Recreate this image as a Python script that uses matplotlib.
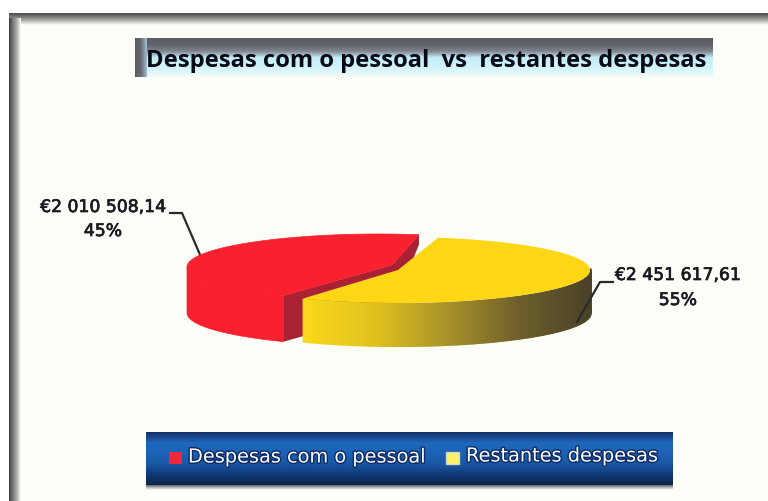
import numpy as np
import matplotlib
matplotlib.use('Agg')
import matplotlib.pyplot as plt
import matplotlib.patheffects as pe
from matplotlib.colors import LinearSegmentedColormap

# Dados
categories = ['Despesas com o pessoal', 'Restantes despesas']
values = [2010508.14, 2451617.61]
value_labels = ['€2 010 508,14', '€2 451 617,61']
percent_labels = ['45%', '55%']
title = 'Despesas com o pessoal  vs  restantes despesas'

# Geometria da tarte em pixeis
start_angle = 78
rx, ry = 192, 33
red_center = (379, 267)
red_apex = (392, 265)
yellow_center = (398, 270)
red_depth = 46
yellow_depth = 44

sweep_red = 360 * values[0] / sum(values)
sweep_yellow = 360 * values[1] / sum(values)


def arc(center, a0, a1, n=200):
    t = np.radians(np.linspace(a0, a1, n))
    return center[0] + rx * np.cos(t), center[1] - ry * np.sin(t)


def grad(ax, extent, colors, vertical=True, z=2):
    g = np.linspace(0, 1, 64)
    g = g[:, None] if vertical else g[None, :]
    ax.imshow(g, extent=extent, aspect='auto', zorder=z,
              cmap=LinearSegmentedColormap.from_list('g', colors))


fig = plt.figure(figsize=(7.68, 5.01), dpi=100, facecolor='#ffffff')
ax = fig.add_axes([0, 0, 1, 1])

# Fundo e moldura
ax.fill([9, 768, 768, 9], [13, 13, 501, 501], color='#fbfff8', lw=0, zorder=0)
grad(ax, [9, 768, 25, 13], ['#4a4a4a', '#7c7c7a', '#b8b8b4', '#fbfff8'], z=1)
grad(ax, [9, 21, 501, 18], ['#3e3e3e', '#7a7a78', '#b0b0aa', '#fbfff8'], vertical=False, z=1.1)

# Banda do titulo
grad(ax, [135, 713, 77, 38], ['#5c5c62', '#62626a', '#80848c', '#c4ecf8', '#ccf2fb', '#d8f5fb', '#f6fcf8'])
grad(ax, [135, 147, 77, 38], ['#5a5a60', '#6a6a72', '#a0c0d0'], vertical=False, z=2.1)
ax.text(426, 67, title, ha='center', va='baseline', fontsize=17.1, fontweight='bold',
        family='Open Sans', color='#0a0a14', zorder=3)

# Linhas de ligacao
ax.plot([170, 182, 201], [213, 213, 257], color='#2a2a2a', lw=1.6, zorder=3)
ax.plot([613, 600, 577], [282, 282, 322], color='#2a2a2a', lw=1.6, zorder=7)

# Fatia vermelha: parede exterior, parede interior e topo
xr, yr = arc(red_center, start_angle, start_angle + sweep_red)
front_r = np.degrees(np.arctan2(red_center[1] - yr, xr - red_center[0])) % 360 >= 180
xs, ys = xr[front_r], yr[front_r]
ax.fill(np.r_[xs, xs[::-1]], np.r_[ys, ys[::-1] + red_depth], color='#f9202f', ec='#f9202f', lw=0.5, zorder=4)
wall_x = [xr[-1], red_apex[0], xr[0], xr[0], red_apex[0], xr[-1]]
wall_y = [yr[-1], red_apex[1], yr[0], yr[0] + 10, red_apex[1] + red_depth, yr[-1] + red_depth]
ax.fill(wall_x, wall_y, color='#a82233', lw=0, zorder=4.2)
ax.fill(np.r_[xr, red_apex[0]], np.r_[yr, red_apex[1]], color='#f9202f', ec='#f9202f', lw=0.5, zorder=4.3)

# Fatia amarela: parede com gradiente e topo
xy, yy = arc(yellow_center, start_angle, start_angle - sweep_yellow)
front = (xy >= xy[-1]) & (yy >= yellow_center[1] - 2)
xf, yf = xy[front][::-1], yy[front][::-1]
wall_cmap = LinearSegmentedColormap.from_list('w', ['#f9d81c', '#e0c01e', '#a8922a', '#6e5f2c', '#4a4228'])
for i in range(len(xf) - 1):
    c = wall_cmap((xf[i] - xf[0]) / (xf[-1] - xf[0]))
    ax.fill([xf[i], xf[i + 1] + 1.5, xf[i + 1] + 1.5, xf[i]],
            [yf[i], yf[i + 1], yf[i + 1] + yellow_depth, yf[i] + yellow_depth],
            color=c, lw=0, zorder=5)
ax.fill(np.r_[xy, yellow_center[0]], np.r_[yy, yellow_center[1]], color='#fdd616', lw=0, zorder=5.5)

# Rotulos
bold = [pe.withStroke(linewidth=0.5, foreground='#1a1a22')]
label_style = dict(ha='center', va='center', fontsize=12.4, color='#1a1a22',
                   family='DejaVu Sans', zorder=8, path_effects=bold)
ax.text(103, 207, value_labels[0], **label_style)
ax.text(103, 231, percent_labels[0], **label_style)
ax.text(678, 275, value_labels[1], **label_style)
ax.text(678, 300, percent_labels[1], **label_style)

# Legenda
grad(ax, [146, 673, 485, 432], ['#14306a', '#1f68bd', '#1c62b5', '#1a58a4', '#103a78', '#0c2448'])
grad(ax, [146, 673, 490, 485], ['#5a6068', '#b4b8b4', '#fbfff8'])
halo = [pe.withStroke(linewidth=2, foreground='#0c2a66')]
ax.fill([169, 182, 182, 169], [452, 452, 464, 464], color='#f0283c', lw=0, zorder=3)
ax.text(188, 457, categories[0], ha='left', va='center', fontsize=13.9, color='white', zorder=3, path_effects=halo)
ax.fill([446, 459, 459, 446], [452, 452, 464, 464], color='#fbf26a', ec='#cfd6d0', lw=1, zorder=3)
ax.text(466, 456, categories[1], ha='left', va='center', fontsize=13.9, color='white', zorder=3, path_effects=halo)

ax.set_xlim(0, 768)
ax.set_ylim(501, 0)
ax.axis('off')
fig.savefig('out.png', dpi=100)
